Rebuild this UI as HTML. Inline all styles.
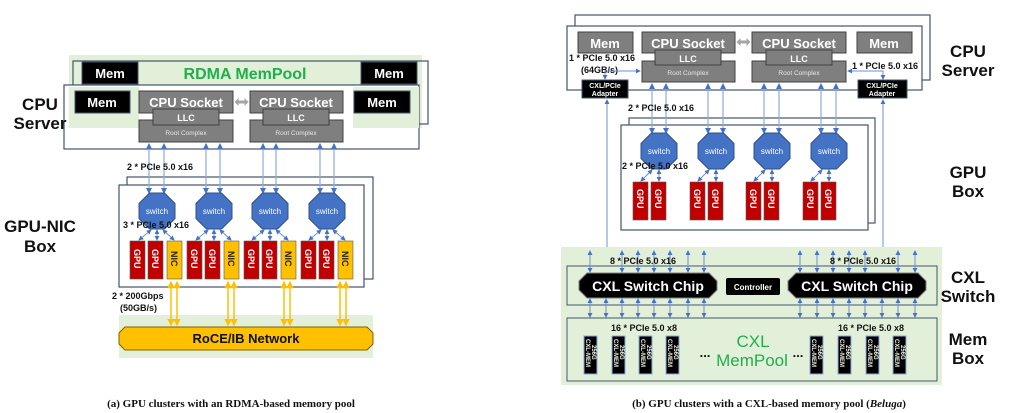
<!DOCTYPE html>
<html><head><meta charset="utf-8"><style>
html,body{margin:0;padding:0;background:#fff;}
svg{display:block;font-family:"Liberation Sans","DejaVu Sans",sans-serif;}
.lb{font-size:17px;font-weight:bold;fill:#111;text-anchor:middle;}
.sm{font-size:9px;font-weight:bold;fill:#111;}
.wt{fill:#fff;text-anchor:middle;font-weight:bold;}
</style></head><body>
<svg width="1019" height="413" viewBox="0 0 1019 413" xmlns="http://www.w3.org/2000/svg">
<defs>
<marker id="a" viewBox="0 0 6 6" refX="5" refY="3" markerWidth="5" markerHeight="5" orient="auto-start-reverse"><path d="M0,0L6,3L0,6z" fill="#4472c4"/></marker>
<marker id="y" viewBox="0 0 6 6" refX="5" refY="3" markerWidth="5" markerHeight="5" orient="auto-start-reverse"><path d="M0,0L6,3L0,6z" fill="#ffc000"/></marker>
<polygon id="sw" points="-7.5,-18 7.5,-18 18,-7.5 18,7.5 7.5,18 -7.5,18 -18,7.5 -18,-7.5" fill="#4472c4" stroke="#2f4f8a" stroke-width="1"/>
<rect id="gpu" x="0" y="0" width="15" height="38" fill="#c00000" stroke="#555" stroke-width="0.6"/>
<rect id="nic" x="0" y="0" width="15" height="38" fill="#ffc000" stroke="#555" stroke-width="0.6"/>
<rect id="mm" x="0" y="0" width="13" height="38" fill="#000" stroke="#8eaadb" stroke-width="1"/>
<polygon id="da" points="-7,0 -3,-4 -3,-1.5 3,-1.5 3,-4 7,0 3,4 3,1.5 -3,1.5 -3,4" fill="#a6a6a6"/>
</defs>

<!-- ===== LEFT PANEL ===== -->
<rect x="69" y="55" width="353" height="73" fill="#e2efd9"/>
<rect x="73" y="61" width="355" height="63" fill="none" stroke="#44546a" stroke-width="1.2"/>
<rect x="82" y="62" width="56" height="22" fill="#000" stroke="#44546a"/>
<text x="110" y="78" class="wt" font-size="13">Mem</text>
<rect x="361" y="62" width="56" height="22" fill="#000" stroke="#44546a"/>
<text x="389" y="78" class="wt" font-size="13">Mem</text>
<text x="245" y="79" font-size="16" font-weight="bold" fill="#1fb04b" text-anchor="middle">RDMA MemPool</text>
<rect x="64" y="85" width="355" height="64" fill="#fff" stroke="#44546a" stroke-width="1.2"/>
<rect x="69" y="87" width="70" height="41" fill="#e2efd9"/>
<rect x="353" y="87" width="66" height="41" fill="#e2efd9"/>
<rect x="75" y="91" width="55" height="22" fill="#000" stroke="#44546a"/>
<text x="102" y="107" class="wt" font-size="13">Mem</text>
<rect x="354" y="91" width="56" height="22" fill="#000" stroke="#44546a"/>
<text x="382" y="107" class="wt" font-size="13">Mem</text>
<g stroke="#404040" stroke-width="1">
<rect x="139" y="91" width="94" height="22" fill="#7f7f7f"/>
<rect x="139" y="120" width="94" height="22" fill="#7f7f7f"/>
<rect x="153" y="109" width="66" height="16" fill="#7f7f7f"/>
<rect x="250" y="91" width="93" height="22" fill="#7f7f7f"/>
<rect x="250" y="120" width="93" height="22" fill="#7f7f7f"/>
<rect x="263" y="109" width="66" height="16" fill="#7f7f7f"/>
</g>
<text x="186" y="107" class="wt" font-size="13">CPU Socket</text>
<text x="296" y="107" class="wt" font-size="13">CPU Socket</text>
<text x="186" y="121" class="wt" font-size="9">LLC</text>
<text x="296" y="121" class="wt" font-size="9">LLC</text>
<text x="186" y="135" fill="#e8e8e8" font-size="6.5" text-anchor="middle">Root Complex</text>
<text x="296" y="135" fill="#e8e8e8" font-size="6.5" text-anchor="middle">Root Complex</text>
<use href="#da" x="241.5" y="102"/>
<text x="40" y="110" class="lb">CPU</text>
<text x="40" y="129" class="lb">Server</text>

<rect x="127" y="177" width="246" height="102" fill="#fff" stroke="#44546a" stroke-width="1.2"/>
<rect x="119" y="185" width="245" height="102" fill="#fff" stroke="#44546a" stroke-width="1.2"/>
<g stroke="#8eaadb" stroke-width="1.2" marker-start="url(#a)" marker-end="url(#a)">
<line x1="149" y1="144" x2="149" y2="193"/><line x1="164" y1="144" x2="164" y2="193"/>
<line x1="206" y1="144" x2="206" y2="193"/><line x1="220" y1="144" x2="220" y2="193"/>
<line x1="263" y1="144" x2="263" y2="193"/><line x1="276" y1="144" x2="276" y2="193"/>
<line x1="320" y1="144" x2="320" y2="193"/><line x1="334" y1="144" x2="334" y2="193"/>
</g>
<text x="127" y="170" class="sm">2 * PCIe 5.0 x16</text>
<use href="#sw" x="157" y="211"/><use href="#sw" x="214" y="211"/><use href="#sw" x="270" y="211"/><use href="#sw" x="327" y="211"/>
<g font-size="8" fill="#fff" text-anchor="middle">
<text x="157" y="214">switch</text><text x="214" y="214">switch</text><text x="270" y="214">switch</text><text x="327" y="214">switch</text></g>
<g stroke="#6f8fd0" stroke-width="1" marker-start="url(#a)" marker-end="url(#a)">
<line x1="151" y1="230" x2="139" y2="240"/><line x1="157" y1="230" x2="157" y2="240"/><line x1="163" y1="230" x2="174" y2="240"/>
<line x1="208" y1="230" x2="196" y2="240"/><line x1="214" y1="230" x2="214" y2="240"/><line x1="220" y1="230" x2="231" y2="240"/>
<line x1="264" y1="230" x2="252" y2="240"/><line x1="270" y1="230" x2="270" y2="240"/><line x1="276" y1="230" x2="288" y2="240"/>
<line x1="321" y1="230" x2="309" y2="240"/><line x1="327" y1="230" x2="327" y2="240"/><line x1="333" y1="230" x2="345" y2="240"/>
</g>
<text x="123" y="228" class="sm">3 * PCIe 5.0 x16</text>
<use href="#gpu" x="130" y="241"/><use href="#gpu" x="148" y="241"/><use href="#nic" x="167" y="241"/>
<use href="#gpu" x="187" y="241"/><use href="#gpu" x="205" y="241"/><use href="#nic" x="224" y="241"/>
<use href="#gpu" x="244" y="241"/><use href="#gpu" x="262" y="241"/><use href="#nic" x="281" y="241"/>
<use href="#gpu" x="301" y="241"/><use href="#gpu" x="319" y="241"/><use href="#nic" x="338" y="241"/>
<g font-size="9" font-weight="bold" fill="#fff">
<text transform="translate(134,249) rotate(90)">GPU</text><text transform="translate(152,249) rotate(90)">GPU</text>
<text transform="translate(191,249) rotate(90)">GPU</text><text transform="translate(209,249) rotate(90)">GPU</text>
<text transform="translate(248,249) rotate(90)">GPU</text><text transform="translate(266,249) rotate(90)">GPU</text>
<text transform="translate(305,249) rotate(90)">GPU</text><text transform="translate(323,249) rotate(90)">GPU</text>
</g>
<g font-size="9" font-weight="bold" fill="#222">
<text transform="translate(171,251) rotate(90)">NIC</text><text transform="translate(228,251) rotate(90)">NIC</text>
<text transform="translate(285,251) rotate(90)">NIC</text><text transform="translate(342,251) rotate(90)">NIC</text>
</g>
<text x="40" y="232" class="lb">GPU-NIC</text>
<text x="40" y="252" class="lb">Box</text>
<rect x="119" y="315" width="254" height="43" fill="#e2efd9"/>
<g stroke="#ffc000" stroke-width="1.5" marker-start="url(#y)" marker-end="url(#y)">
<line x1="171" y1="282" x2="171" y2="325"/><line x1="177" y1="282" x2="177" y2="325"/>
<line x1="228" y1="282" x2="228" y2="325"/><line x1="234" y1="282" x2="234" y2="325"/>
<line x1="284" y1="282" x2="284" y2="325"/><line x1="290" y1="282" x2="290" y2="325"/>
<line x1="340" y1="282" x2="340" y2="325"/><line x1="346" y1="282" x2="346" y2="325"/>
</g>
<text x="112" y="299" class="sm">2 * 200Gbps</text>
<text x="120" y="311" class="sm">(50GB/s)</text>
<polygon points="125,327 367,327 373,333 373,344 367,350 125,350 119,344 119,333" fill="#ffc000" stroke="#7f6000" stroke-width="1"/>
<text x="246" y="343" font-size="13" font-weight="bold" fill="#111" text-anchor="middle">RoCE/IB Network</text>
<text x="231" y="407" font-family="Liberation Serif,serif" font-size="11" font-weight="bold" text-anchor="middle" fill="#111">(a) GPU clusters with an RDMA-based memory pool</text>

<!-- ===== RIGHT PANEL ===== -->
<rect x="575" y="15" width="355" height="65" fill="#fff" stroke="#44546a" stroke-width="1.2"/>
<rect x="567" y="26" width="355" height="64" fill="#fff" stroke="#44546a" stroke-width="1.2"/>
<g stroke="#404040" stroke-width="1" fill="#7f7f7f">
<rect x="578" y="32" width="55" height="21"/>
<rect x="857" y="32" width="55" height="21"/>
<rect x="642" y="32" width="93" height="21"/>
<rect x="642" y="61" width="93" height="21"/>
<rect x="655" y="50" width="66" height="15"/>
<rect x="752" y="32" width="94" height="21"/>
<rect x="752" y="61" width="94" height="21"/>
<rect x="766" y="50" width="66" height="15"/>
</g>
<text x="605" y="48" class="wt" font-size="13">Mem</text>
<text x="884" y="48" class="wt" font-size="13">Mem</text>
<text x="688" y="48" class="wt" font-size="13">CPU Socket</text>
<text x="799" y="48" class="wt" font-size="13">CPU Socket</text>
<text x="688" y="62" class="wt" font-size="9">LLC</text>
<text x="799" y="62" class="wt" font-size="9">LLC</text>
<text x="688" y="75" fill="#e8e8e8" font-size="6.5" text-anchor="middle">Root Complex</text>
<text x="799" y="75" fill="#e8e8e8" font-size="6.5" text-anchor="middle">Root Complex</text>
<use href="#da" x="743.5" y="42"/>
<rect x="582" y="80" width="46" height="18" fill="#000" stroke="#44546a"/>
<rect x="858" y="80" width="49" height="18" fill="#000" stroke="#44546a"/>
<g font-size="7" fill="#fff" text-anchor="middle" font-weight="bold">
<text x="605" y="88">CXL/PCIe</text><text x="605" y="96">Adapter</text>
<text x="882" y="88">CXL/PCIe</text><text x="882" y="96">Adapter</text></g>
<text x="569" y="61" class="sm">1 * PCIe 5.0 x16</text>
<text x="581" y="73" class="sm">(64GB/s)</text>
<text x="852" y="69" class="sm">1 * PCIe 5.0 x16</text>
<g stroke="#6f8fd0" stroke-width="1" fill="none">
<polyline points="605,79 605,71 640,71" marker-start="url(#a)" marker-end="url(#a)"/>
<polyline points="883,79 883,71 848,71" marker-start="url(#a)" marker-end="url(#a)"/>
<line x1="607" y1="100" x2="607" y2="272" marker-start="url(#a)" marker-end="url(#a)"/>
<line x1="883" y1="100" x2="883" y2="272" marker-start="url(#a)" marker-end="url(#a)"/>
</g>
<rect x="629" y="118" width="246" height="105" fill="#fff" stroke="#44546a" stroke-width="1.2"/>
<rect x="621" y="125" width="247" height="105" fill="#fff" stroke="#44546a" stroke-width="1.2"/>
<g stroke="#8eaadb" stroke-width="1.2" marker-start="url(#a)" marker-end="url(#a)">
<line x1="652" y1="84" x2="652" y2="133"/><line x1="666" y1="84" x2="666" y2="133"/>
<line x1="708" y1="84" x2="708" y2="133"/><line x1="723" y1="84" x2="723" y2="133"/>
<line x1="764" y1="84" x2="764" y2="133"/><line x1="779" y1="84" x2="779" y2="133"/>
<line x1="821" y1="84" x2="821" y2="133"/><line x1="836" y1="84" x2="836" y2="133"/>
</g>
<text x="628" y="111" class="sm">2 * PCIe 5.0 x16</text>
<use href="#sw" x="659" y="151"/><use href="#sw" x="716" y="151"/><use href="#sw" x="772" y="151"/><use href="#sw" x="829" y="151"/>
<g font-size="8" fill="#fff" text-anchor="middle">
<text x="659" y="154">switch</text><text x="716" y="154">switch</text><text x="772" y="154">switch</text><text x="829" y="154">switch</text></g>
<g stroke="#6f8fd0" stroke-width="1" marker-start="url(#a)" marker-end="url(#a)">
<line x1="652" y1="170" x2="641" y2="181"/><line x1="659" y1="170" x2="659" y2="181"/>
<line x1="709" y1="170" x2="698" y2="181"/><line x1="716" y1="170" x2="716" y2="181"/>
<line x1="765" y1="170" x2="754" y2="181"/><line x1="772" y1="170" x2="772" y2="181"/>
<line x1="822" y1="170" x2="811" y2="181"/><line x1="829" y1="170" x2="829" y2="181"/>
</g>
<text x="622" y="169" class="sm">2 * PCIe 5.0 x16</text>
<use href="#gpu" x="633" y="182"/><use href="#gpu" x="651" y="182"/>
<use href="#gpu" x="690" y="182"/><use href="#gpu" x="708" y="182"/>
<use href="#gpu" x="746" y="182"/><use href="#gpu" x="764" y="182"/>
<use href="#gpu" x="803" y="182"/><use href="#gpu" x="821" y="182"/>
<g font-size="9" font-weight="bold" fill="#fff">
<text transform="translate(637,189) rotate(90)">GPU</text><text transform="translate(655,189) rotate(90)">GPU</text>
<text transform="translate(694,189) rotate(90)">GPU</text><text transform="translate(712,189) rotate(90)">GPU</text>
<text transform="translate(750,189) rotate(90)">GPU</text><text transform="translate(768,189) rotate(90)">GPU</text>
<text transform="translate(807,189) rotate(90)">GPU</text><text transform="translate(825,189) rotate(90)">GPU</text>
</g>
<text x="968" y="57" class="lb">CPU</text>
<text x="968" y="76" class="lb">Server</text>
<text x="968" y="178" class="lb">GPU</text>
<text x="968" y="197" class="lb">Box</text>

<rect x="561" y="247" width="381" height="138" fill="#e2efd9"/>
<rect x="567" y="266" width="370" height="39" fill="none" stroke="#44546a" stroke-width="1"/>
<rect x="567" y="318" width="370" height="63" fill="none" stroke="#44546a" stroke-width="1"/>
<g stroke="#6f8fd0" stroke-width="1" marker-start="url(#a)" marker-end="url(#a)">
<line x1="590" y1="251" x2="590" y2="272"/><line x1="622" y1="251" x2="622" y2="272"/><line x1="638" y1="251" x2="638" y2="272"/><line x1="654" y1="251" x2="654" y2="272"/><line x1="670" y1="251" x2="670" y2="272"/><line x1="688" y1="251" x2="688" y2="272"/><line x1="704" y1="251" x2="704" y2="272"/>
<line x1="800" y1="251" x2="800" y2="272"/><line x1="817" y1="251" x2="817" y2="272"/><line x1="833" y1="251" x2="833" y2="272"/><line x1="849" y1="251" x2="849" y2="272"/><line x1="865" y1="251" x2="865" y2="272"/><line x1="898" y1="251" x2="898" y2="272"/><line x1="915" y1="251" x2="915" y2="272"/>
<line x1="590" y1="299" x2="590" y2="317"/><line x1="606" y1="299" x2="606" y2="317"/><line x1="622" y1="299" x2="622" y2="317"/><line x1="638" y1="299" x2="638" y2="317"/><line x1="654" y1="299" x2="654" y2="317"/><line x1="670" y1="299" x2="670" y2="317"/><line x1="688" y1="299" x2="688" y2="317"/><line x1="704" y1="299" x2="704" y2="317"/>
<line x1="800" y1="299" x2="800" y2="317"/><line x1="817" y1="299" x2="817" y2="317"/><line x1="833" y1="299" x2="833" y2="317"/><line x1="849" y1="299" x2="849" y2="317"/><line x1="865" y1="299" x2="865" y2="317"/><line x1="882" y1="299" x2="882" y2="317"/><line x1="898" y1="299" x2="898" y2="317"/><line x1="915" y1="299" x2="915" y2="317"/>
</g>
<text x="610" y="264" class="sm">8 * PCIe 5.0 x16</text>
<text x="830" y="264" class="sm">8 * PCIe 5.0 x16</text>
<polygon points="587,273 709,273 717,281 717,290 709,298 587,298 579,290 579,281" fill="#000" stroke="#7f7f7f"/>
<polygon points="796,273 918,273 926,281 926,290 918,298 796,298 788,290 788,281" fill="#000" stroke="#7f7f7f"/>
<text x="648" y="291" class="wt" font-size="14">CXL Switch Chip</text>
<text x="857" y="291" class="wt" font-size="14">CXL Switch Chip</text>
<rect x="726" y="278" width="54" height="17" rx="2" fill="#000"/>
<text x="753" y="290" class="wt" font-size="8">Controller</text>
<text x="611" y="331" class="sm">16 * PCIe 5.0 x8</text>
<text x="838" y="331" class="sm">16 * PCIe 5.0 x8</text>
<use href="#mm" x="584" y="336"/><use href="#mm" x="612" y="336"/><use href="#mm" x="639" y="336"/><use href="#mm" x="666" y="336"/>
<use href="#mm" x="810" y="336"/><use href="#mm" x="838" y="336"/><use href="#mm" x="866" y="336"/><use href="#mm" x="893" y="336"/>
<g font-size="6" font-weight="bold" fill="#f0f0e0">
<text transform="translate(586,339) rotate(90)">CXL-MEM</text><text transform="translate(592,345) rotate(90)">256G</text>
<text transform="translate(614,339) rotate(90)">CXL-MEM</text><text transform="translate(620,345) rotate(90)">256G</text>
<text transform="translate(641,339) rotate(90)">CXL-MEM</text><text transform="translate(647,345) rotate(90)">256G</text>
<text transform="translate(668,339) rotate(90)">CXL-MEM</text><text transform="translate(674,345) rotate(90)">256G</text>
<text transform="translate(812,339) rotate(90)">CXL-MEM</text><text transform="translate(818,345) rotate(90)">256G</text>
<text transform="translate(840,339) rotate(90)">CXL-MEM</text><text transform="translate(846,345) rotate(90)">256G</text>
<text transform="translate(868,339) rotate(90)">CXL-MEM</text><text transform="translate(874,345) rotate(90)">256G</text>
<text transform="translate(895,339) rotate(90)">CXL-MEM</text><text transform="translate(901,345) rotate(90)">256G</text>
</g>
<text x="705" y="357" font-size="13" font-weight="bold" fill="#111" text-anchor="middle">...</text>
<text x="798" y="357" font-size="13" font-weight="bold" fill="#111" text-anchor="middle">...</text>
<text x="753" y="347" font-size="17" fill="#1fb04b" text-anchor="middle">CXL</text>
<text x="752" y="366" font-size="17" fill="#1fb04b" text-anchor="middle">MemPool</text>
<text x="968" y="283" class="lb">CXL</text>
<text x="968" y="302" class="lb">Switch</text>
<text x="968" y="345" class="lb">Mem</text>
<text x="968" y="364" class="lb">Box</text>
<text x="769" y="407" font-family="Liberation Serif,serif" font-size="11" font-weight="bold" text-anchor="middle" fill="#111">(b) GPU clusters with a CXL-based memory pool (<tspan font-style="italic">Beluga</tspan>)</text>
</svg>
</body></html>
